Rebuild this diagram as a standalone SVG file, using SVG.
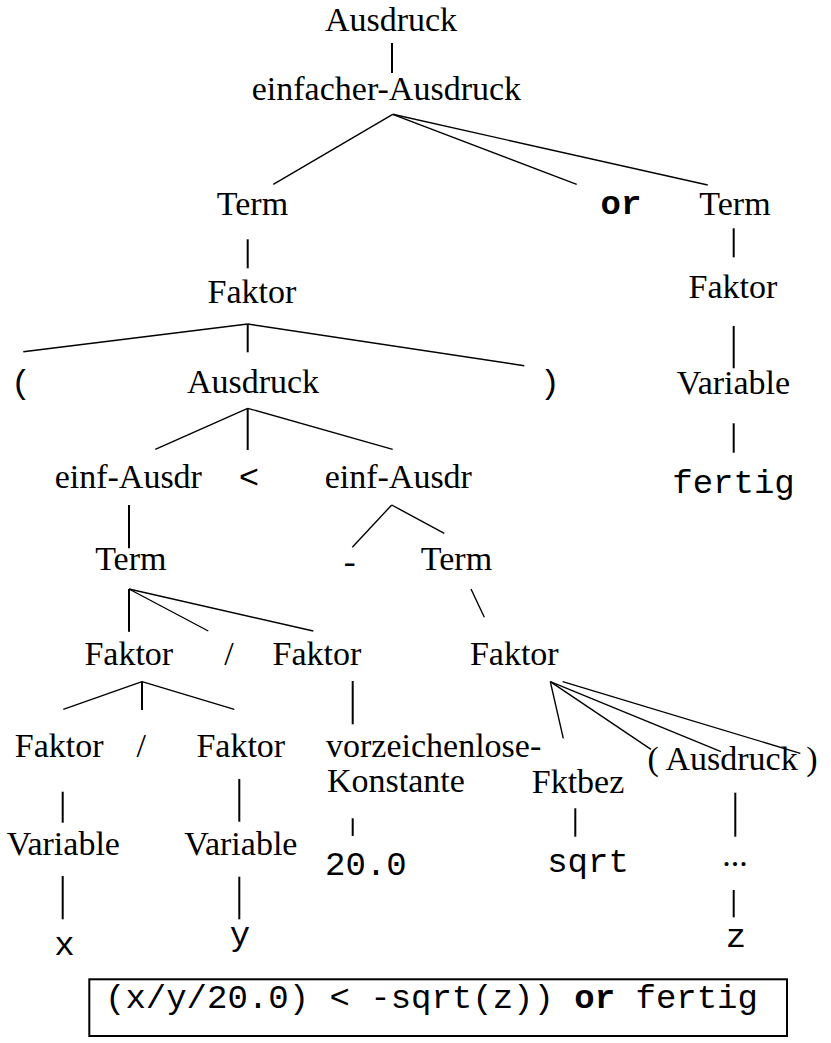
<svg xmlns="http://www.w3.org/2000/svg" width="831" height="1043" viewBox="0 0 831 1043">
<style>
.s{font-family:"Liberation Serif","Times New Roman",serif;font-size:34px;fill:#000;text-anchor:middle}
.m{font-family:"Liberation Mono","Courier New",monospace;font-size:34px;fill:#000;text-anchor:middle}
.b{font-weight:bold}
.v{stroke:#000;stroke-width:2;fill:none}
.d{stroke:#000;stroke-width:1.4;fill:none}
</style>
<rect width="831" height="1043" fill="#fff"/>
<g id="connectors">
<line class="v" x1="392" y1="43" x2="392" y2="73"/>
<line class="d" x1="392.7" y1="114.3" x2="273.3" y2="184.3"/>
<line class="d" x1="392.7" y1="114.3" x2="576.7" y2="184.3"/>
<line class="d" x1="392.7" y1="114.3" x2="707.7" y2="185"/>
<line class="v" x1="247.7" y1="239.3" x2="247.7" y2="268.3"/>
<line class="d" x1="247.7" y1="324" x2="23.3" y2="351.7"/>
<line class="v" x1="247.7" y1="324" x2="247.7" y2="352.3"/>
<line class="d" x1="247.7" y1="324" x2="524.3" y2="365.7"/>
<line class="d" x1="247.7" y1="408.3" x2="155.3" y2="449.3"/>
<line class="v" x1="247.7" y1="408.3" x2="247.7" y2="450"/>
<line class="d" x1="247.7" y1="408.3" x2="392.7" y2="449.3"/>
<line class="v" x1="733.7" y1="228.3" x2="733.7" y2="257.3"/>
<line class="v" x1="733.7" y1="326" x2="733.7" y2="368.3"/>
<line class="v" x1="733.7" y1="423.3" x2="733.7" y2="452.7"/>
<line class="v" x1="129" y1="505" x2="129" y2="548.3"/>
<line class="d" x1="391.7" y1="505" x2="352.3" y2="547.3"/>
<line class="d" x1="391.7" y1="505" x2="444.3" y2="533.3"/>
<line class="v" x1="129" y1="589" x2="129" y2="631.7"/>
<line class="d" x1="129" y1="589" x2="208.3" y2="631"/>
<line class="d" x1="129" y1="589" x2="313.3" y2="631"/>
<line class="d" x1="471" y1="589" x2="484.3" y2="617.3"/>
<line class="d" x1="142" y1="681.7" x2="63.3" y2="709.3"/>
<line class="v" x1="142" y1="681.7" x2="142" y2="710"/>
<line class="d" x1="142" y1="681.7" x2="234.3" y2="709.3"/>
<line class="v" x1="352.7" y1="681" x2="352.7" y2="724.3"/>
<line class="d" x1="550.3" y1="681.7" x2="563.3" y2="738.3"/>
<line class="d" x1="550.3" y1="681.7" x2="651" y2="749.3"/>
<line class="d" x1="550.3" y1="681.7" x2="721" y2="751.7"/>
<line class="d" x1="562.7" y1="681.7" x2="800.3" y2="753.3"/>
<line class="v" x1="62.7" y1="791.7" x2="62.7" y2="822.7"/>
<line class="v" x1="239.3" y1="779" x2="239.3" y2="821.7"/>
<line class="v" x1="352.7" y1="818.3" x2="352.7" y2="836"/>
<line class="v" x1="575.3" y1="808.3" x2="575.3" y2="836.7"/>
<line class="v" x1="735.3" y1="792.7" x2="735.3" y2="836.7"/>
<line class="v" x1="62.7" y1="876" x2="62.7" y2="919.3"/>
<line class="v" x1="239.3" y1="876.7" x2="239.3" y2="919.3"/>
<line class="v" x1="733.7" y1="890" x2="733.7" y2="917.3"/>
</g>
<g id="n1"><text class="s" x="391" y="31">Ausdruck</text></g>
<g id="n2"><text class="s" x="386.4" y="100">einfacher-Ausdruck</text></g>
<g id="n3"><text class="s" x="252.5" y="215">Term</text></g>
<g id="n4"><text class="m b" x="621" y="214">or</text></g>
<g id="n5"><text class="s" x="735" y="215">Term</text></g>
<g id="n6"><text class="s" x="252" y="303">Faktor</text></g>
<g id="n7"><text class="m" x="21" y="393">(</text></g>
<g id="n8"><text class="s" x="253" y="393">Ausdruck</text></g>
<g id="n9"><text class="m" x="550" y="393">)</text></g>
<g id="n10"><text class="s" x="733" y="298">Faktor</text></g>
<g id="n11"><text class="s" x="733.5" y="394">Variable</text></g>
<g id="n12"><text class="m" x="733.5" y="493">fertig</text></g>
<g id="n13"><text class="s" x="128.3" y="488">einf-Ausdr</text></g>
<g id="n14"><text class="m" x="249" y="488">&lt;</text></g>
<g id="n15"><text class="s" x="398.3" y="488">einf-Ausdr</text></g>
<g id="n16"><text class="s" x="130.8" y="570">Term</text></g>
<g id="n17"><text class="m" x="349.7" y="574">-</text></g>
<g id="n18"><text class="s" x="456.5" y="570">Term</text></g>
<g id="n19"><text class="s" x="128.8" y="665">Faktor</text></g>
<g id="n20"><text class="s" x="229" y="665">/</text></g>
<g id="n21"><text class="s" x="317" y="665">Faktor</text></g>
<g id="n22"><text class="s" x="514.3" y="665">Faktor</text></g>
<g id="n23"><text class="s" x="59.2" y="757">Faktor</text></g>
<g id="n24"><text class="s" x="141.3" y="757">/</text></g>
<g id="n25"><text class="s" x="240.8" y="757">Faktor</text></g>
<g id="n26"><text class="s" x="326" y="757" style="text-anchor:start">vorzeichenlose-</text><text class="s" x="327" y="792" style="text-anchor:start">Konstante</text></g>
<g id="n27"><text class="s" x="578" y="793">Fktbez</text></g>
<g id="n28"><text class="s" x="732.5" y="770">( Ausdruck )</text></g>
<g id="n29"><text class="s" x="63.3" y="855">Variable</text></g>
<g id="n30"><text class="s" x="240.8" y="855">Variable</text></g>
<g id="n31"><text class="m" x="365.8" y="875">20.0</text></g>
<g id="n32"><text class="m" x="588" y="872">sqrt</text></g>
<g id="n33"><text class="s" x="735" y="866">...</text></g>
<g id="n34"><text class="m" x="64.5" y="955">x</text></g>
<g id="n35"><text class="m" x="240" y="945">y</text></g>
<g id="n36"><text class="m" x="736" y="947">z</text></g>
<g id="result">
<rect x="89.3" y="979.3" width="697.7" height="56.7" fill="none" stroke="#000" stroke-width="2"/>
<text class="m" x="105" y="1008" style="text-anchor:start">(x/y/20.0) &lt; -sqrt(z)) <tspan class="b">or</tspan> fertig</text>
</g>
</svg>
